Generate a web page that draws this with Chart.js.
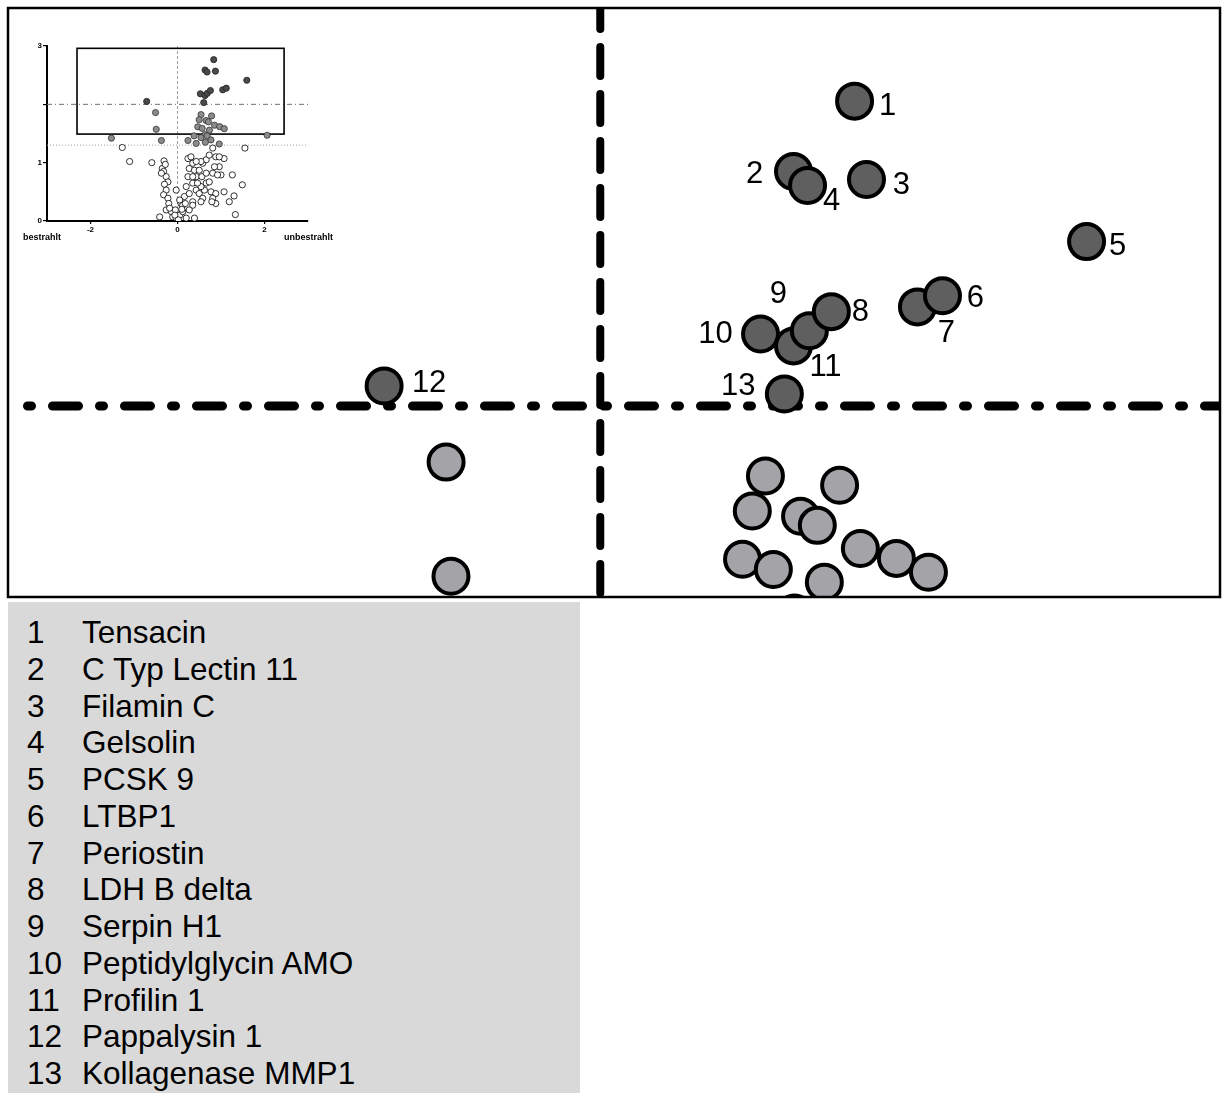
<!DOCTYPE html>
<html><head><meta charset="utf-8">
<script src="https://cdn.jsdelivr.net/npm/chart.js@4.4.1/dist/chart.umd.min.js"></script>
<style>
html,body{margin:0;padding:0;background:#fff;}
body{width:1226px;height:1095px;position:relative;overflow:hidden;font-family:"Liberation Sans",Arial,sans-serif;}
#main{position:absolute;left:0;top:0;}
#inset{position:absolute;left:10px;top:30px;}
#legend{position:absolute;left:8px;top:602px;width:572px;height:491px;background:#d9d9d9;box-sizing:border-box;padding-top:12px;}
.row{height:36.75px;line-height:36.75px;font-size:31.5px;color:#000;white-space:nowrap;position:relative;}
.num{position:absolute;left:19px;top:0;}
.name{position:absolute;left:74px;top:0;}
</style>
</head><body>
<canvas id="main" width="1226" height="605"></canvas>
<canvas id="inset" width="325" height="221"></canvas>
<div id="legend"></div>
<script>
// ---------- DATA ----------
// significant proteins (draw order), ids refer to legend numbers
const sigIds = [1, 2, 3, 4, 5, 7, 6, 10, 11, 9, 8, 12, 13];
const sigX   = [0.833, 0.633, 0.872, 0.679, 1.593, 1.039, 1.121, 0.525, 0.633, 0.685, 0.757, -0.708, 0.603];
const sigY   = [2.766, 2.589, 2.569, 2.554, 2.413, 2.249, 2.277, 2.181, 2.151, 2.189, 2.237, 2.050, 2.030];

// moderately regulated (grey) proteins
const midX = [-0.505, -0.489, 0.541, 0.784, 0.498, 0.656, 0.711, 0.852, 0.466, 0.567, 0.970, 1.075, 0.734, 0.636,
              -1.52, -0.37, 0.24, 0.38, 0.54, 0.68, 0.64, 0.77, 0.43, 0.96, 2.06];
const midY = [1.859, 1.572, 1.824, 1.801, 1.736, 1.723, 1.700, 1.642, 1.615, 1.589, 1.617, 1.582, 1.557, 1.48,
              1.42, 1.38, 1.38, 1.46, 1.43, 1.46, 1.35, 1.39, 1.33, 1.32, 1.47];

// non-significant proteins (inset only)
const nsX = [-1.27,-1.10,-0.59,-0.31,-0.35,-0.32,-0.26,-0.22,-0.37,-0.30,-0.26,-0.32,-0.22,-0.20,-0.26,-0.14,-0.41,-0.11,-0.03,0.05,
             0.12,0.08,0.16,0.27,0.20,0.24,0.27,0.24,0.31,0.35,0.39,0.43,0.35,0.43,0.50,0.58,0.54,0.35,0.62,0.66,
             0.56,0.50,0.58,0.66,0.73,0.81,0.88,0.96,1.00,0.81,0.73,0.77,0.88,1.07,0.81,0.88,0.79,0.54,0.46,0.35,
             1.07,1.26,1.49,1.55,1.30,1.19,1.33,0.35,0.20,0.39,-0.05,0.05,-0.03,0.27,0.12,0.66,0.92,0.54,0.43,0.85,
             0.96,-0.28,-0.18,-0.06,0.02,0.10,0.18];
const nsY = [1.26,1.02,1.00,1.03,0.90,0.85,0.76,0.67,0.82,0.63,0.53,0.45,0.39,0.30,0.19,0.16,0.07,0.07,0.05,0.10,
             0.16,0.30,0.42,0.47,0.59,0.76,0.90,1.07,1.10,0.99,0.87,0.76,0.65,0.53,0.47,0.39,0.33,0.33,0.53,0.65,
             0.76,0.87,0.99,1.05,1.13,1.25,1.10,0.93,0.79,0.82,0.67,0.50,0.47,0.50,0.39,0.30,0.33,0.59,0.65,0.76,
             1.07,0.79,0.62,1.25,0.43,0.33,0.11,0.27,0.05,0.05,0.19,0.36,0.53,0.19,0.27,0.82,0.79,1.02,1.02,0.93,
             1.10,0.97,0.22,0.10,0.02,0.20,0.30];

const proteinNames = ['Tensacin','C Typ Lectin 11','Filamin C','Gelsolin','PCSK 9','LTBP1','Periostin',
  'LDH B delta','Serpin H1','Peptidylglycin AMO','Profilin 1','Pappalysin 1','Kollagenase MMP1'];

// thresholds
const FC_CUTOFF = 0;      // vertical line
const P_CUTOFF = 2;       // horizontal dash-dot line
const P_CUTOFF_LOW = 1.3; // dotted line in inset
// zoom window shown in the main plot (as drawn in the inset)
const ZOOM_BOX = {x0: -2.31, x1: 2.45, y0: 1.49, y1: 2.96};

const insetXTicks = [-2, 0, 2];
const insetXTickLabels = ['-2', '0', '2'];
const insetYTicks = [0, 1, 2, 3];
const insetYTickLabels = ['0', '1', '', '3'];

// ---------- STYLE / LAYOUT ----------
const labelOffsets = {1:[33,4],2:[-39,2],3:[35,5],4:[24,15],5:[31,4],6:[33,2],7:[29,26],8:[29,0],
  9:[-31,-37],10:[-45,0],11:[32,21],12:[45,-4],13:[-46,-9]};
const FONT = '"Liberation Sans", Arial, sans-serif';

function pts(xs, ys){ return xs.map((v,i)=>({x:v, y:ys[i]})); }

// legend
const leg = document.getElementById('legend');
proteinNames.forEach((n,i)=>{
  const r = document.createElement('div'); r.className='row';
  r.innerHTML = '<span class="num">'+(i+1)+'</span><span class="name">'+n+'</span>';
  leg.appendChild(r);
});

// ---------- MAIN CHART ----------
const mainLines = {
  id:'mainLines',
  beforeDatasetsDraw(chart){
    const {ctx, chartArea:a, scales:{x,y}} = chart;
    ctx.save();
    ctx.beginPath(); ctx.rect(a.left,a.top,a.right-a.left,a.bottom-a.top); ctx.clip();
    ctx.strokeStyle='#000'; ctx.lineCap='round';
    const xp = x.getPixelForValue(FC_CUTOFF);
    ctx.lineWidth=8; ctx.setLineDash([29,18]); ctx.lineDashOffset=8;
    ctx.beginPath(); ctx.moveTo(xp,a.top); ctx.lineTo(xp,a.bottom); ctx.stroke();
    const yp = y.getPixelForValue(P_CUTOFF);
    ctx.lineWidth=9; ctx.setLineDash([26,21,4,21]); ctx.lineDashOffset=27.5;
    ctx.beginPath(); ctx.moveTo(a.left,yp); ctx.lineTo(a.right,yp); ctx.stroke();
    ctx.restore();
  },
  afterDatasetsDraw(chart){
    const {ctx, chartArea:a} = chart;
    const meta = chart.getDatasetMeta(1);
    ctx.save();
    ctx.fillStyle='#000'; ctx.font='31px '+FONT; ctx.textAlign='center'; ctx.textBaseline='middle';
    meta.data.forEach((el,i)=>{
      const id = sigIds[i]; const o = labelOffsets[id];
      ctx.fillText(String(id), el.x+o[0], el.y+o[1]+1);
    });
    ctx.setLineDash([]); ctx.lineWidth=2.5; ctx.strokeStyle='#000';
    ctx.strokeRect(a.left, a.top, a.right-a.left, a.bottom-a.top);
    ctx.restore();
  }
};

new Chart(document.getElementById('main'), {
  type:'scatter',
  data:{datasets:[
    {data:pts(midX,midY), backgroundColor:'#a4a4a8', borderColor:'#000', borderWidth:4, pointRadius:17.5, clip:0},
    {data:pts(sigX,sigY), backgroundColor:'#5f5f5f', borderColor:'#000', borderWidth:4, pointRadius:17.5, clip:0}
  ]},
  options:{
    responsive:false, animation:false, events:[],
    layout:{autoPadding:false, padding:{left:8,right:6,top:8,bottom:8}},
    scales:{
      x:{type:'linear', min:-1.94, max:2.03, display:false},
      y:{type:'linear', min:1.52, max:3.0, display:false}
    },
    plugins:{legend:{display:false}, tooltip:{enabled:false}}
  },
  plugins:[mainLines]
});

// ---------- INSET CHART ----------
const insetDeco = {
  id:'insetDeco',
  beforeDatasetsDraw(chart){
    const {ctx, chartArea:a, scales:{x,y}} = chart;
    ctx.save();
    ctx.lineWidth=1;
    ctx.strokeStyle='#a0a0a0'; ctx.setLineDash([3,2]);
    let xp = x.getPixelForValue(FC_CUTOFF);
    ctx.beginPath(); ctx.moveTo(xp,a.top); ctx.lineTo(xp,a.bottom); ctx.stroke();
    ctx.strokeStyle='#707070'; ctx.setLineDash([5,3,1,3]);
    let yp = y.getPixelForValue(P_CUTOFF);
    ctx.beginPath(); ctx.moveTo(a.left,yp); ctx.lineTo(a.right,yp); ctx.stroke();
    ctx.strokeStyle='#a0a0a0'; ctx.setLineDash([1,2]);
    yp = y.getPixelForValue(P_CUTOFF_LOW);
    ctx.beginPath(); ctx.moveTo(a.left,yp); ctx.lineTo(a.right,yp); ctx.stroke();
    ctx.setLineDash([]); ctx.strokeStyle='#000'; ctx.lineWidth=1.6;
    const bx0=x.getPixelForValue(ZOOM_BOX.x0), bx1=x.getPixelForValue(ZOOM_BOX.x1);
    const by0=y.getPixelForValue(ZOOM_BOX.y1), by1=y.getPixelForValue(ZOOM_BOX.y0);
    ctx.strokeRect(bx0,by0,bx1-bx0,by1-by0);
    ctx.restore();
  },
  afterDraw(chart){
    const {ctx, chartArea:a} = chart;
    ctx.save();
    ctx.fillStyle='#000'; ctx.font='bold 9px '+FONT; ctx.textBaseline='middle';
    ctx.textAlign='left'; ctx.fillText('bestrahlt', 13, a.bottom+17);
    ctx.textAlign='right'; ctx.fillText('unbestrahlt', 323, a.bottom+17);
    ctx.restore();
  }
};

const tickFont = {family:'Liberation Sans', weight:'bold', size:8};
new Chart(document.getElementById('inset'), {
  type:'scatter',
  data:{datasets:[
    {data:pts(nsX,nsY), backgroundColor:'#fff', borderColor:'#000', borderWidth:0.8, pointRadius:3.1},
    {data:pts(midX,midY), backgroundColor:'#8c8c8c', borderColor:'#333', borderWidth:0.8, pointRadius:3.1},
    {data:pts(sigX,sigY), backgroundColor:'#4a4a4a', borderColor:'#222', borderWidth:0.8, pointRadius:3.1}
  ]},
  options:{
    responsive:false, animation:false, events:[],
    layout:{autoPadding:false, padding:{left:0,right:27,top:16,bottom:0}},
    scales:{
      x:{type:'linear', min:-3, max:3,
         afterBuildTicks(s){ s.ticks = insetXTicks.map(v=>({value:v})); },
         afterFit(s){ s.height = 30; },
         ticks:{font:tickFont, color:'#000', padding:1, autoSkip:false, maxRotation:0,
                callback:(v,i)=>insetXTickLabels[i]},
         grid:{drawOnChartArea:false, drawTicks:true, tickLength:3, color:'#000', lineWidth:1.2},
         border:{display:true, color:'#000', width:2}},
      y:{type:'linear', min:0, max:3,
         afterBuildTicks(s){ s.ticks = insetYTicks.map(v=>({value:v})); },
         afterFit(s){ s.width = 37; },
         ticks:{font:tickFont, color:'#000', padding:1, autoSkip:false,
                callback:(v,i)=>insetYTickLabels[i]},
         grid:{drawOnChartArea:false, drawTicks:true, tickLength:4, color:'#000', lineWidth:1.2},
         border:{display:true, color:'#000', width:2}}
    },
    plugins:{legend:{display:false}, tooltip:{enabled:false}}
  },
  plugins:[insetDeco]
});
</script>
</body></html>
